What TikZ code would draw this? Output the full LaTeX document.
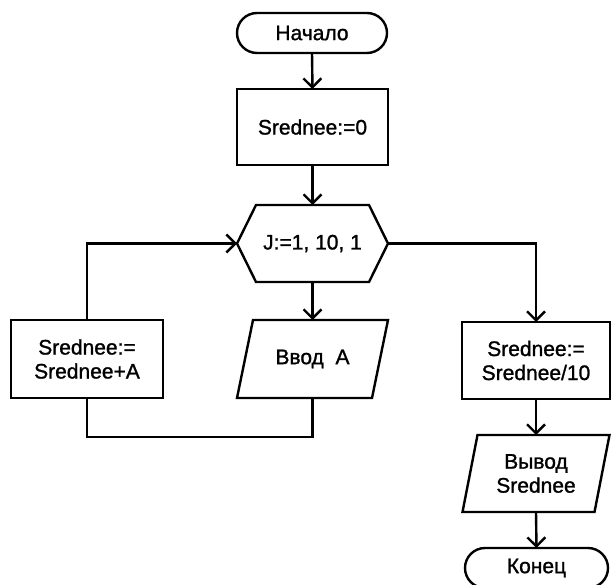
\documentclass[tikz,border=0pt]{standalone}
\usepackage{fontspec}
\setmainfont{Liberation Sans}
\newfontfamily\heavysans[FakeBold=1.2]{Liberation Sans}
\usetikzlibrary{arrows.meta,calc}
\begin{document}
\begin{tikzpicture}[x=1pt,y=-1pt,line width=2.4pt,
  every node/.style={outer sep=0pt,inner sep=0pt,align=center,
    font=\heavysans\fontsize{21}{24}\selectfont},
  procbox/.style={draw,minimum width=151pt,minimum height=76pt},
  termbox/.style={draw,rounded corners=20pt,minimum height=40pt},
  shell/.style={minimum width=151pt,minimum height=77pt},
  flow/.style={-{Straight Barb[length=9pt,width=18pt]}}]
\useasboundingbox (0,0) rectangle (612,585);

% main column
\node (start) [termbox,minimum width=150pt] at (312,33) {Начало};
\node (init) [procbox] at (312.5,127) {Srednee:=0};
\node (cyc) [shell] at (312.5,243.5) {J:=1, 10, 1};
\draw (cyc.west) -- ($(cyc.north west)+(19,0)$) -- ($(cyc.north east)+(-19,0)$)
  -- (cyc.east) -- ($(cyc.south east)+(-19,0)$) -- ($(cyc.south west)+(19,0)$) -- cycle;
\node (inp) [shell,minimum height=78pt] at (312.5,359) {Ввод\ \ A};
\draw (inp.south west) -- ($(inp.north west)+(16,0)$) -- (inp.north east)
  -- ($(inp.south east)+(-16,0)$) -- cycle;

% loop body
\node (acc) [procbox,minimum width=152pt,minimum height=78pt] at (87,359) {Srednee:=\\Srednee+A};

% after the loop
\node (avg) [procbox,minimum width=148pt,minimum height=77pt] at (536,360.5) {Srednee:=\\Srednee/10};
\node (out) [shell,minimum width=147pt] at (536,473.5) {Вывод\\Srednee};
\draw (out.south west) -- ($(out.north west)+(15,0)$) -- (out.north east)
  -- ($(out.south east)+(-15,0)$) -- cycle;
\node (stop) [termbox,minimum width=143pt] at (536.5,568) {Конец};

% connectors
\draw[flow] (start.south) -- (init.north);
\draw[flow] (init.south) -- (cyc.north);
\draw[flow] (cyc.south) -- (inp.north);
\draw (inp.south) -- ++(0,39) -| (acc.south);
\draw[flow] (acc.north) |- (cyc.west);
\draw[flow] (cyc.east) -| (avg.north);
\draw[flow] (avg.south) -- (out.north);
\draw[flow] (out.south) -- (stop.north);
\end{tikzpicture}
\end{document}
